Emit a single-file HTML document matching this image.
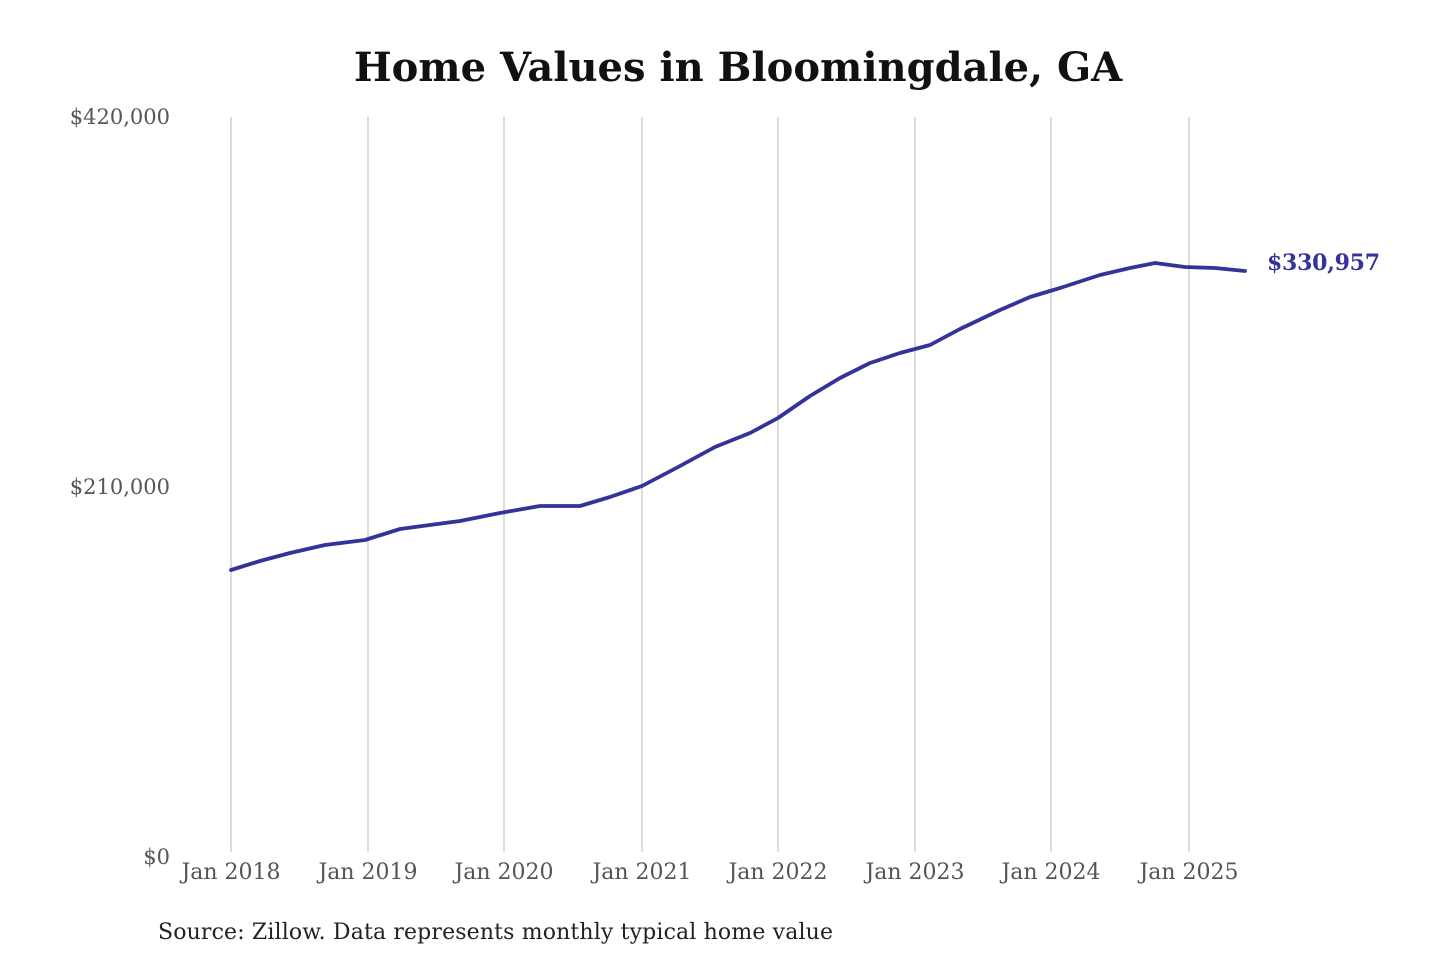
<!DOCTYPE html>
<html><head><meta charset="utf-8"><style>
body{margin:0;background:#fff;}
svg text{font-family:"DejaVu Serif","Liberation Serif",serif;}
</style></head><body>
<svg width="1440" height="960" xmlns="http://www.w3.org/2000/svg">
<rect width="1440" height="960" fill="#fff"/>
<text x="738" y="81" text-anchor="middle" font-size="40" font-weight="bold" fill="#111">Home Values in Bloomingdale, GA</text>
<g stroke="#c8c8c8" stroke-width="1.3">
<line x1="231" y1="117" x2="231" y2="852"/>
<line x1="368" y1="117" x2="368" y2="852"/>
<line x1="504" y1="117" x2="504" y2="852"/>
<line x1="642" y1="117" x2="642" y2="852"/>
<line x1="778" y1="117" x2="778" y2="852"/>
<line x1="915" y1="117" x2="915" y2="852"/>
<line x1="1051" y1="117" x2="1051" y2="852"/>
<line x1="1189" y1="117" x2="1189" y2="852"/>
</g>
<g font-size="21" fill="#555" text-anchor="end">
<text x="170" y="124">$420,000</text>
<text x="170" y="494">$210,000</text>
<text x="170" y="864">$0</text>
</g>
<g font-size="22" fill="#555" text-anchor="middle">
<text x="231" y="879">Jan 2018</text>
<text x="368" y="879">Jan 2019</text>
<text x="504" y="879">Jan 2020</text>
<text x="642" y="879">Jan 2021</text>
<text x="778" y="879">Jan 2022</text>
<text x="915" y="879">Jan 2023</text>
<text x="1051" y="879">Jan 2024</text>
<text x="1189" y="879">Jan 2025</text>
</g>
<polyline fill="none" stroke="#333399" stroke-width="3.8" stroke-linejoin="round" stroke-linecap="round" points="231,570 260,561 290,553 325,545 365,540 400,529 430,525 460,521 500,513 540,506 580,506 610,497 642,486 680,466 715,447 750,433 778,418 810,396 840,378 870,363 900,353 930,345 960,329 1000,310 1030,297 1060,288 1100,275 1130,268 1155,263 1185,267 1215,268 1245,271"/>
<text x="1267" y="270" font-size="22" font-weight="bold" fill="#333399" textLength="113">$330,957</text>
<text x="158" y="939" font-size="22" fill="#222" textLength="675">Source: Zillow. Data represents monthly typical home value</text>
</svg>
</body></html>
